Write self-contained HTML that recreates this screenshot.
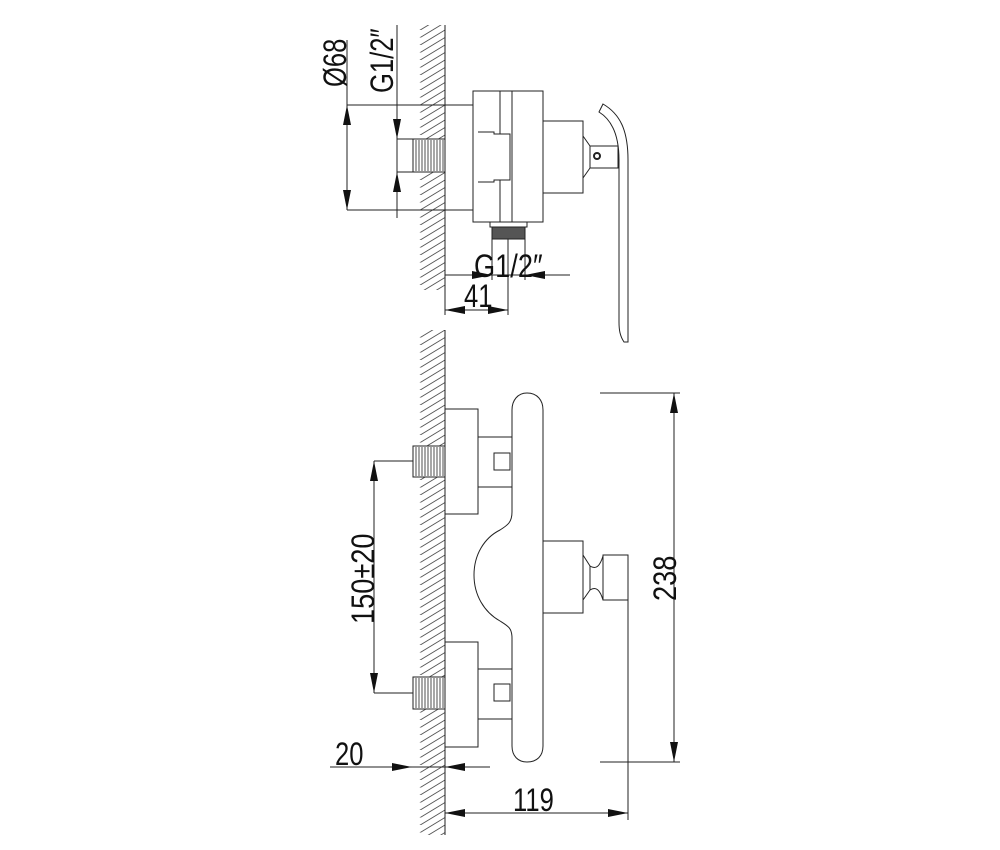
<!DOCTYPE html>
<html><head><meta charset="utf-8"><style>
html,body{margin:0;padding:0;background:#fff}
svg{display:block}
text{font-family:"Liberation Sans Narrow","Liberation Sans",sans-serif;fill:#111}
</style></head><body>
<svg width="1000" height="850" viewBox="0 0 1000 850" xmlns="http://www.w3.org/2000/svg">
<defs>
<pattern id="h" patternUnits="userSpaceOnUse" width="33" height="7.5" x="412" y="0">
<line x1="0" y1="20" x2="33" y2="0" stroke="#555" stroke-width="0.9"/>
<line x1="0" y1="12.5" x2="33" y2="-7.5" stroke="#555" stroke-width="0.9"/>
<line x1="0" y1="27.5" x2="33" y2="7.5" stroke="#555" stroke-width="0.9"/>
</pattern>
<marker id="a" viewBox="0 0 10 4" refX="10" refY="2" markerWidth="20" markerHeight="8" markerUnits="userSpaceOnUse" orient="auto-start-reverse">
<path d="M0,0 L10,2 L0,4 z" fill="#111"/>
</marker>
</defs>
<g fill="none" stroke="#222" stroke-width="1">
<rect x="413" y="25" width="32" height="265" fill="url(#h)" stroke="none"/>
<rect x="413" y="330" width="32" height="505" fill="url(#h)" stroke="none"/>
<line x1="445" y1="25" x2="445" y2="290"/>
<line x1="445" y1="330" x2="445" y2="835"/>

<rect x="445" y="105" width="33" height="105" fill="#fff"/>
<rect x="473" y="91" width="70" height="131" fill="#fff"/>
<line x1="500" y1="91" x2="500" y2="222"/>
<line x1="512" y1="91" x2="512" y2="222"/>
<path d="M478,132 H494 V134 H510 V180 H494 V182 H478" fill="#fff"/>
<rect x="543" y="121" width="40" height="72" fill="#fff"/>
<path d="M583,136 L590,146 V168 L583,178"/>
<rect x="590" y="146" width="28" height="22" fill="#fff"/>
<circle cx="597" cy="156" r="3" stroke-width="2"/>
<path d="M603,104 C620,114 628,130 628,160 L628,342 L624,342 C620,336 619,330 619,322 L619,160 C619,135 612,120 599,112 Z" fill="#fff"/>
<rect x="413" y="139" width="32" height="33" fill="#fff"/>
<g stroke-width="0.8">
<line x1="416" y1="140" x2="416" y2="171"/><line x1="419" y1="140" x2="419" y2="171"/><line x1="422" y1="140" x2="422" y2="171"/><line x1="425" y1="140" x2="425" y2="171"/><line x1="428" y1="140" x2="428" y2="171"/><line x1="431" y1="140" x2="431" y2="171"/><line x1="434" y1="140" x2="434" y2="171"/><line x1="437" y1="140" x2="437" y2="171"/><line x1="440" y1="140" x2="440" y2="171"/><line x1="443" y1="140" x2="443" y2="171"/>
</g>
<rect x="490" y="222" width="37" height="5" fill="#fff"/>
<rect x="492" y="227" width="33" height="12" fill="#555"/>

<line x1="347" y1="40" x2="347" y2="210"/>
<line x1="347" y1="105" x2="445" y2="105"/>
<line x1="347" y1="210" x2="445" y2="210"/>
<line x1="347" y1="126" x2="347" y2="105" marker-end="url(#a)"/>
<line x1="347" y1="190" x2="347" y2="210" marker-end="url(#a)"/>
<line x1="397" y1="25" x2="397" y2="218"/>
<line x1="397" y1="139" x2="413" y2="139"/>
<line x1="397" y1="172" x2="413" y2="172"/>
<line x1="397" y1="117" x2="397" y2="139" marker-end="url(#a)"/>
<line x1="397" y1="194" x2="397" y2="172" marker-end="url(#a)"/>
<line x1="445" y1="275" x2="570" y2="275"/>
<line x1="492" y1="239" x2="492" y2="280"/>
<line x1="525" y1="239" x2="525" y2="280"/>
<line x1="470" y1="275" x2="492" y2="275" marker-end="url(#a)"/>
<line x1="547" y1="275" x2="525" y2="275" marker-end="url(#a)"/>
<line x1="445" y1="270" x2="445" y2="315"/>
<line x1="508" y1="239" x2="508" y2="315"/>
<line x1="445" y1="310" x2="508" y2="310"/>
<line x1="468" y1="310" x2="445" y2="310" marker-end="url(#a)"/>
<line x1="485" y1="310" x2="508" y2="310" marker-end="url(#a)"/>

<rect x="445" y="409" width="33" height="105" fill="#fff"/>
<rect x="478" y="437" width="34" height="50" fill="#fff"/>
<rect x="494" y="453" width="16" height="17"/>
<rect x="445" y="642" width="33" height="105" fill="#fff"/>
<rect x="478" y="669" width="34" height="50" fill="#fff"/>
<rect x="494" y="684" width="16" height="17"/>
<rect x="413" y="446" width="32" height="31" fill="#fff"/>
<rect x="413" y="677" width="32" height="32" fill="#fff"/>
<g stroke-width="0.8">
<line x1="416" y1="447" x2="416" y2="476"/><line x1="419" y1="447" x2="419" y2="476"/><line x1="422" y1="447" x2="422" y2="476"/><line x1="425" y1="447" x2="425" y2="476"/><line x1="428" y1="447" x2="428" y2="476"/><line x1="431" y1="447" x2="431" y2="476"/><line x1="434" y1="447" x2="434" y2="476"/><line x1="437" y1="447" x2="437" y2="476"/><line x1="440" y1="447" x2="440" y2="476"/><line x1="443" y1="447" x2="443" y2="476"/>
<line x1="416" y1="678" x2="416" y2="708"/><line x1="419" y1="678" x2="419" y2="708"/><line x1="422" y1="678" x2="422" y2="708"/><line x1="425" y1="678" x2="425" y2="708"/><line x1="428" y1="678" x2="428" y2="708"/><line x1="431" y1="678" x2="431" y2="708"/><line x1="434" y1="678" x2="434" y2="708"/><line x1="437" y1="678" x2="437" y2="708"/><line x1="440" y1="678" x2="440" y2="708"/><line x1="443" y1="678" x2="443" y2="708"/>
</g>
<path d="M527,393 C537,393 543,400 543,410 L543,746 C543,756 537,762 527,762 C518,762 512,756 512,746 L512,638 C512,628 508,626 500,621 C484,612 474,595 474,575 C474,555 484,538 500,530 C508,525 512,522 512,512 L512,410 C512,400 518,393 527,393 Z" fill="#fff"/>
<rect x="543" y="541" width="40" height="72" fill="#fff"/>
<path d="M583,555 L590,566 V590 L583,600"/>
<path d="M590,566 C596,570 600,566 603,556 M590,590 C596,586 600,590 603,600"/>
<rect x="603" y="555" width="25" height="45" fill="#fff"/>

<line x1="600" y1="393" x2="680" y2="393"/>
<line x1="600" y1="762" x2="680" y2="762"/>
<line x1="674" y1="393" x2="674" y2="762"/>
<line x1="674" y1="415" x2="674" y2="393" marker-end="url(#a)"/>
<line x1="674" y1="740" x2="674" y2="762" marker-end="url(#a)"/>
<line x1="374" y1="461" x2="413" y2="461"/>
<line x1="374" y1="693" x2="413" y2="693"/>
<line x1="374" y1="461" x2="374" y2="693"/>
<line x1="374" y1="483" x2="374" y2="461" marker-end="url(#a)"/>
<line x1="374" y1="671" x2="374" y2="693" marker-end="url(#a)"/>
<line x1="330" y1="767" x2="490" y2="767"/>
<line x1="390" y1="767" x2="412" y2="767" marker-end="url(#a)"/>
<line x1="467" y1="767" x2="445" y2="767" marker-end="url(#a)"/>
<line x1="628" y1="600" x2="628" y2="820"/>
<line x1="445" y1="813" x2="628" y2="813"/>
<line x1="468" y1="813" x2="445" y2="813" marker-end="url(#a)"/>
<line x1="606" y1="813" x2="628" y2="813" marker-end="url(#a)"/>
</g>

<g font-size="32">
<text transform="translate(346,87) rotate(-90) scale(0.8,1)">Ø68</text>
<text transform="translate(393,93) rotate(-90) scale(0.8,1)">G1/2″</text>
<text transform="translate(474,277) scale(0.85,1)">G1/2″</text>
<text transform="translate(464,307) scale(0.8,1)">41</text>
<text transform="translate(335,765) scale(0.8,1)">20</text>
<text transform="translate(513,811) scale(0.8,1)">119</text>
<text transform="translate(374,624) rotate(-90) scale(0.85,1)">150±20</text>
<text transform="translate(676,601) rotate(-90) scale(0.85,1)">238</text>
</g>
</svg>
</body></html>
